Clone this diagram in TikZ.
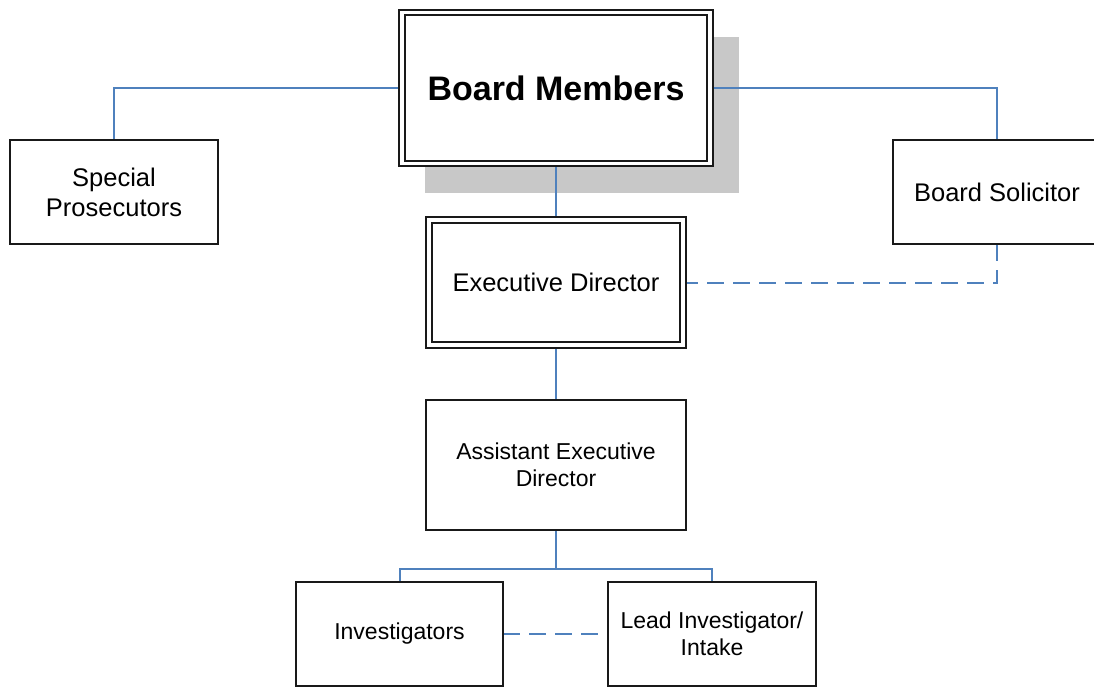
\documentclass[tikz,border=0pt]{standalone}
\usepackage{fontspec}
\setmainfont{Liberation Sans}
\usetikzlibrary{backgrounds}
\definecolor{linkblue}{RGB}{79,129,189}
\definecolor{shadowgray}{RGB}{200,200,200}
\definecolor{boxline}{RGB}{25,25,25}
\tikzset{
  orgbox/.style={draw=boxline, line width=2pt, fill=white, rectangle, outer sep=0pt, inner sep=0pt,
    minimum width=208pt, minimum height=104pt, align=center,
    font=\fontsize{25.5}{30}\selectfont},
  smalltext/.style={font=\fontsize{23}{27}\selectfont},
  dblbox/.style={orgbox, draw=boxline, double=white, line width=1.8pt, double distance=3.5pt},
  link/.style={draw=linkblue, line width=2pt},
  dashlink/.style={link, dash pattern=on 17pt off 9pt}
}
\begin{document}
\begin{tikzpicture}[x=1pt,y=-1pt]
\useasboundingbox (0,0) rectangle (1094,686);
% nodes
\node[dblbox, minimum width=308pt, minimum height=151pt, font=\fontsize{34}{40}\selectfont\bfseries] (bm) at (556,88) {Board Members};
\node[orgbox] (sp) at (114,192) {Special\\Prosecutors};
\node[orgbox] (bs) at (997,192) {Board Solicitor};
\node[dblbox, minimum width=254pt, minimum height=125pt] (ed) at (556,282.5) {Executive Director};
\node[orgbox, smalltext, minimum width=260pt, minimum height=130pt] (aed) at (556,465) {Assistant Executive\\Director};
\node[orgbox, smalltext, minimum width=207pt] (inv) at (399.5,634) {Investigators};
\node[orgbox, smalltext] (lead) at (712,634) {Lead Investigator/\\Intake};
\begin{scope}[on background layer]
  \fill[white] (0,0) rectangle (1094,686);
  \fill[shadowgray] ([shift={(23,24.5)}]bm.north west) rectangle ([shift={(29,29.5)}]bm.south east);
  \draw[link] (bm.west) -| (sp.north);
  \draw[link] (bm.east) -| (bs.north);
  \draw[link] (bm.south) -- (ed.north);
  \draw[link] (ed.south) -- (aed.north);
  \draw[link] (aed.south) -- ++(0,39) coordinate (j);
  \draw[link] (j) -| (inv.north);
  \draw[link] (j) -| (lead.north);
  \draw[dashlink] (bs.south) |- (ed.east);
  \draw[dashlink] (inv.east) -- (lead.west);
\end{scope}
\end{tikzpicture}
\end{document}
